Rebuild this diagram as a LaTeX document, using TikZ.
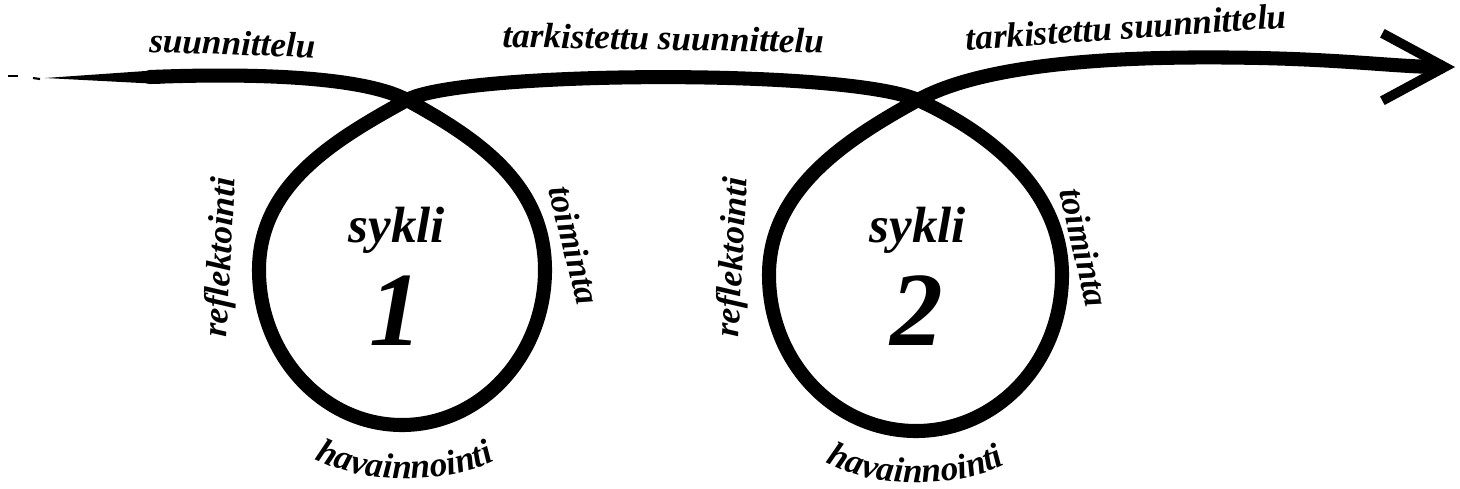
\documentclass[tikz,border=0pt]{standalone}
\usepackage{fontspec}
\setmainfont{Liberation Serif}
\usetikzlibrary{arrows.meta,decorations.text}
\newcommand{\labelfont}{\fontsize{20}{24}\selectfont\bfseries\itshape}

\begin{document}
\begin{tikzpicture}[x=0.02cm, y=-0.02cm]
	% Define styles
	\tikzstyle{brush} = [line width=8pt, line cap=round, line join=round, black]
	\tikzstyle{looplabel} = [font=\labelfont, inner sep=0pt, anchor=base]
	\tikzstyle{cyclename} = [font=\fontsize{29}{34}\selectfont\bfseries\itshape, inner sep=0pt, anchor=base]
	\tikzstyle{cyclenum} = [font=\fontsize{60}{70}\selectfont\bfseries\itshape, inner sep=0pt, anchor=base]
	\tikzstyle{curvedtext} = [decorate, decoration={text along path, text align=center}]
	\useasboundingbox (0,0) rectangle (1460,488);
	
	% Nodes
	\node[looplabel, rotate=-2] (plan) at (232,55) {suunnittelu};
	\node[looplabel, rotate=-1] (replan1) at (663,50) {tarkistettu suunnittelu};
	\node[looplabel, rotate=4] (replan2) at (1127,39) {tarkistettu suunnittelu};
	\node[cyclename] (sykli1) at (397,242) {sykli};
	\node[cyclenum] (num1) at (396,345) {1};
	\node[cyclename] (sykli2) at (918,242) {sykli};
	\node[cyclenum] (num2) at (917,345) {2};
	\node[looplabel, rotate=87] (reflect1) at (231,258) {reflektointi};
	\node[looplabel, rotate=-76] (act1) at (563,248) {toiminta};
	\node[looplabel, rotate=87] (reflect2) at (743,258) {reflektointi};
	\node[looplabel, rotate=-77] (act2) at (1073,250) {toiminta};
	\path[curvedtext, decoration={text={|\labelfont|havainnointi}}] (310,456) .. controls (360,486) and (450,486) .. (500,458);
	\path[curvedtext, decoration={text={|\labelfont|havainnointi}}] (822,460) .. controls (870,490) and (960,490) .. (1010,462);
	
	% Path points
	\coordinate (start) at (150,77);
	\coordinate (x1) at (407,100);
	\coordinate (r1) at (545,270);
	\coordinate (b1) at (402,425);
	\coordinate (l1) at (259,270);
	\coordinate (x2) at (918,100);
	\coordinate (r2) at (1062,275);
	\coordinate (b2) at (916,431);
	\coordinate (l2) at (769,275);
	\coordinate (m3) at (1260,58);
	\coordinate (tip) at (1455,67);
	
	% Tail
	\fill (45,78) -- (160,70) -- (160,84) -- cycle;
	\draw[line width=1pt] (8,76) -- (18,76);
	\draw[line width=1.2pt] (33,78) -- (40,79);
	
	% Arrows
	\draw[brush, -{Straight Barb[length=1.25cm 0, width=1.35cm 0, line width'=5.5pt]}]
		(start) .. controls (250,73) and (363,76) .. (x1)
		.. controls (480,140) and (545,185) .. (r1)
		.. controls (545,355) and (481,425) .. (b1)
		.. controls (323,425) and (259,355) .. (l1)
		.. controls (259,185) and (334,140) .. (x1)
		.. controls (460,71) and (845,68) .. (x2)
		.. controls (990,133) and (1062,190) .. (r2)
		.. controls (1062,363) and (996,431) .. (b2)
		.. controls (836,431) and (769,363) .. (l2)
		.. controls (769,190) and (845,140) .. (x2)
		.. controls (985,63) and (1120,55) .. (m3)
		.. controls (1350,60) and (1400,67) .. (tip);
\end{tikzpicture}
\end{document}
